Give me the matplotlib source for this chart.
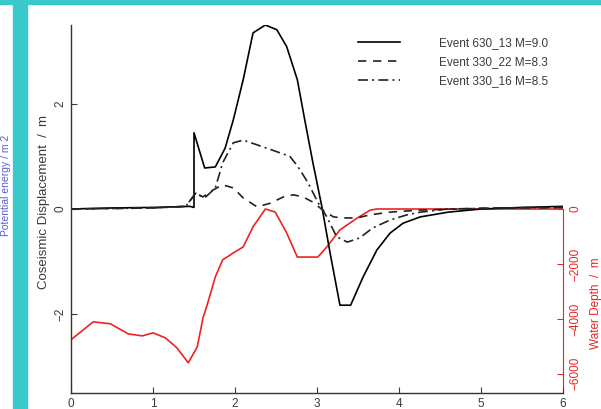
import numpy as np
import matplotlib.pyplot as plt
from matplotlib.patches import Rectangle

plt.rcParams['font.family'] = ['Liberation Sans', 'DejaVu Sans']

# distance along profile and coseismic displacement (m)
x_630_13 = [0.0, 0.5, 1.0, 1.45, 1.5, 1.5, 1.63, 1.76, 1.88, 1.98, 2.10, 2.22, 2.37, 2.51, 2.63,
            2.76, 2.85, 2.95, 3.06, 3.16, 3.28, 3.41, 3.56, 3.73, 3.89, 4.05, 4.26, 4.6, 5.0, 5.5, 6.0]
d_630_13 = [0.0, 0.02, 0.03, 0.05, 0.03, 1.45, 0.78, 0.80, 1.16, 1.70, 2.46, 3.35, 3.50, 3.41, 3.09,
            2.46, 1.70, 0.88, 0.04, -0.84, -1.83, -1.83, -1.30, -0.78, -0.46, -0.27, -0.15, -0.06, 0.0, 0.03, 0.05]

x_330_22 = [0.0, 0.5, 1.0, 1.4, 1.52, 1.61, 1.73, 1.85, 1.98, 2.10, 2.27, 2.43, 2.59, 2.71, 2.83,
            2.95, 3.07, 3.20, 3.32, 3.49, 3.65, 3.89, 4.26, 4.7, 5.2, 6.0]
d_330_22 = [0.0, 0.01, 0.02, 0.05, 0.30, 0.23, 0.36, 0.46, 0.40, 0.21, 0.04, 0.11, 0.23, 0.27, 0.23,
            0.13, -0.02, -0.15, -0.17, -0.17, -0.11, -0.06, -0.02, 0.0, 0.02, 0.03]

x_330_16 = [0.0, 0.5, 1.0, 1.4, 1.52, 1.63, 1.76, 1.85, 1.98, 2.10, 2.27, 2.51, 2.67, 2.77, 2.89,
            3.01, 3.12, 3.24, 3.37, 3.52, 3.68, 3.89, 4.10, 4.26, 4.6, 5.2, 6.0]
d_330_16 = [0.0, 0.01, 0.02, 0.05, 0.30, 0.21, 0.40, 0.88, 1.26, 1.31, 1.22, 1.09, 1.00, 0.80, 0.50,
            0.13, -0.15, -0.53, -0.63, -0.55, -0.36, -0.21, -0.11, -0.06, 0.0, 0.02, 0.03]

# bathymetry along the same profile (m)
x_depth = [0.0, 0.27, 0.48, 0.70, 0.87, 1.00, 1.15, 1.29, 1.43, 1.54, 1.61, 1.66, 1.76, 1.85, 1.98,
           2.10, 2.22, 2.37, 2.49, 2.63, 2.76, 3.01, 3.12, 3.28, 3.49, 3.65, 3.73, 6.0]
depth = [-4760, -4110, -4180, -4550, -4620, -4510, -4690, -5050, -5600, -5020, -3960, -3500, -2470, -1850, -1600,
         -1380, -650, 0, -110, -870, -1750, -1750, -1380, -760, -330, -40, 0, 0]

events = ["Event 630_13 M=9.0", "Event 330_22 M=8.3", "Event 330_16 M=8.5"]

W, H = 601, 409
fig = plt.figure(figsize=(W / 100, H / 100), dpi=100)

# frame strips and the neighbouring panel's label
fig.patches.append(Rectangle((0, 1 - 4 / H), 1, 4 / H, transform=fig.transFigure,
                             color='#38caca', zorder=0))
fig.patches.append(Rectangle((13 / W, 0), 14 / W, 1, transform=fig.transFigure,
                             color='#38caca', zorder=0))
fig.text(6 / W, 1 - 185 / H, "Potential energy / m 2", rotation=90, color='#5a5ad8',
         fontsize=7.5, ha='center', va='center')

ax = fig.add_axes([71 / W, 16 / H, 492 / W, 368 / H])
tc = '#3a3a3a'
l1, = ax.plot(x_630_13, d_630_13, color='black', lw=1.2, ls='-')
l2, = ax.plot(x_330_22, d_330_22, color='#222222', lw=1.2, ls=(0, (5, 4)))
l3, = ax.plot(x_330_16, d_330_16, color='#222222', lw=1.2, ls=(0, (6, 2.5, 1.2, 2.5)))

ax.set_xlim(0, 6)
ax.set_ylim(-3.5, 3.5)
ax.set_xticks(range(7))
ax.set_yticks([-2, 0, 2])
ax.tick_params(direction='in', length=4, width=0.8, colors=tc, labelsize=8.5)
for lab in ax.get_yticklabels():
    lab.set_rotation(90)
    lab.set_va('center')
ax.spines['top'].set_visible(False)
ax.spines['right'].set_visible(False)
for s in ('left', 'bottom'):
    ax.spines[s].set_color('#333333')
    ax.spines[s].set_linewidth(1.0)
ax.set_ylabel("Coseismic Displacement  /  m", fontsize=9.5, color=tc)
ax.yaxis.set_label_coords(-21 / 492, 0.52)

ax2 = ax.twinx()
ax2.plot(x_depth, depth, color='#ee2222', lw=1.2)
ax2.set_ylim(-6700, 6700)
ax2.set_yticks([0, -2000, -4000, -6000])
ax2.set_yticklabels(['0', '\u22122000', '\u22124000', '\u22126000'])
ax2.tick_params(axis='y', direction='in', length=4, width=0.8, colors='#ee2222', labelsize=8.5,
                pad=5)
for lab in ax2.get_yticklabels():
    lab.set_rotation(90)
    lab.set_va('center')
for s in ('top', 'left', 'bottom'):
    ax2.spines[s].set_visible(False)
ax2.spines['right'].set_color('#ee2222')
ax2.spines['right'].set_bounds(-6700, 0)
ax2.set_ylabel("Water Depth  /  m", fontsize=8.5, color='#ee2222', rotation=90)
ax2.yaxis.set_label_coords(1.055, 0.245)

ax.set_zorder(ax2.get_zorder() + 1)
ax.patch.set_visible(False)

leg = ax.legend([l1, l2, l3], events, loc='upper left', bbox_to_anchor=((346 - 71) / 492, 1.0),
                frameon=False, fontsize=8.5, handlelength=3.6, handletextpad=3.3,
                labelspacing=0.6, borderaxespad=0.6)
for t in leg.get_texts():
    t.set_color(tc)

fig.savefig('out.png', dpi=100)
